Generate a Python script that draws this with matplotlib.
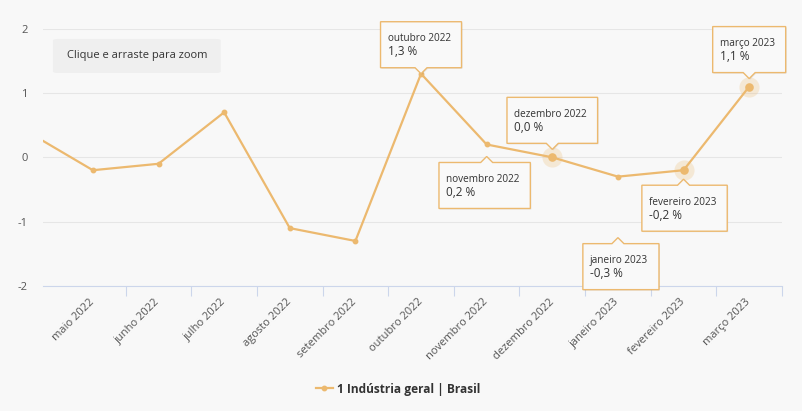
import numpy as np
import matplotlib.pyplot as plt
from matplotlib.transforms import Affine2D, ScaledTranslation
from matplotlib.patches import Polygon, FancyBboxPatch

plt.rcParams['font.family'] = ['Open Sans', 'DejaVu Sans']

#%% Dados
meses = ['abril 2022', 'maio 2022', 'junho 2022', 'julho 2022', 'agosto 2022',
         'setembro 2022', 'outubro 2022', 'novembro 2022', 'dezembro 2022',
         'janeiro 2023', 'fevereiro 2023', 'março 2023']
valores = [0.4, -0.2, -0.1, 0.7, -1.1, -1.3, 1.3, 0.2, 0.0, -0.3, -0.2, 1.1]
serie = '1 Indústria geral | Brasil'

# tooltips fixos
dicas = ['outubro 2022', 'novembro 2022', 'dezembro 2022',
         'janeiro 2023', 'fevereiro 2023', 'março 2023']
destaque = ['dezembro 2022', 'fevereiro 2023', 'março 2023']

# layout dos tooltips (px): lado, distancia ao ponto, deslocamento horizontal
lado = ['cima', 'baixo', 'cima', 'baixo', 'baixo', 'cima']
distancia = [6, 18, 14, 67, 15, 14]
desloc = [0, -2, 0, 3, 1, 0]

cor = '#ecb96f'
fundo = '#f8f8f8'
cor_texto = '#333333'

#%% Figura
fig = plt.figure(figsize=(8.03, 4.11), dpi=100, facecolor=fundo)
ax = fig.add_axes([43/803, 1 - 286/411, 739/803, 257.3/411])
ax.set_facecolor(fundo)

x = np.arange(len(meses))
ax.plot(x, valores, color=cor, lw=1.6, marker='o', ms=3.2, label=serie,
        zorder=3, clip_on=True)

for m in destaque:
    i = meses.index(m)
    ax.plot(i, valores[i], 'o', ms=14.5, color=cor, alpha=0.25, mec='none', zorder=3)
    ax.plot(i, valores[i], 'o', ms=6.2, color=cor, mec='none', zorder=4)

ax.set_yticks([-2, -1, 0, 1, 2])
ax.set_yticklabels(['-2', '-1', '0', '1', '2'])
ax.grid(axis='y', color='#e6e6e6', lw=0.8)
ax.set_axisbelow(True)
for s in ['top', 'right', 'left']:
    ax.spines[s].set_visible(False)
ax.spines['bottom'].set_color('#ccd6eb')
ax.spines['bottom'].set_linewidth(0.8)

ax.set_xticks(x)
ax.set_xticklabels(meses, rotation=45, ha='right', va='center',
                   rotation_mode='anchor')
ax.set_xticks(x[1:] + 0.5, minor=True)
ax.tick_params(axis='x', which='major', length=0, pad=10.5, labelsize=8,
               labelcolor='#555555')
ax.tick_params(axis='x', which='minor', length=7, width=0.8, color='#ccd6eb')
ax.tick_params(axis='y', length=0, pad=11, labelsize=8, labelcolor='#555555')
ax.set_xlim(0.24, 11.5)
ax.set_ylim(-2, 2)

# botao de zoom
ax.add_patch(FancyBboxPatch((0.0135, 0.828), 0.227, 0.132,
                            boxstyle='round,pad=0,rounding_size=0.006',
                            transform=ax.transAxes, fc='#efefef', ec='none',
                            zorder=5))
ax.text(0.127, 0.894, 'Clique e arraste para zoom', transform=ax.transAxes,
        ha='center', va='center', fontsize=8, color=cor_texto, zorder=6)

#%% Tooltips
renderer = fig.canvas.get_renderer()
alt = 46
for k, m in enumerate(dicas):
    i = meses.index(m)
    v = valores[i]
    tr = Affine2D() + ScaledTranslation(i, v, ax.transData)
    val = f'{v:.1f}'.replace('.', ',') + ' %'
    t1 = ax.text(0, 0, m, transform=tr, fontsize=7.2, color=cor_texto,
                 va='center', ha='left', zorder=8)
    t2 = ax.text(0, 0, val, transform=tr, fontsize=8.5, color=cor_texto,
                 va='center', ha='left', zorder=8)
    larg = max(t1.get_window_extent(renderer).width,
               t2.get_window_extent(renderer).width) + 18
    g = distancia[k]
    x0 = desloc[k] - larg/2
    if lado[k] == 'cima':
        yb, yt = g, g + alt
        pts = [(x0, yt), (x0 + larg, yt), (x0 + larg, yb), (6, yb),
               (0, yb - 6), (-6, yb), (x0, yb)]
    else:
        yt, yb = -g, -g - alt
        pts = [(x0, yt), (-6, yt), (0, yt + 6), (6, yt), (x0 + larg, yt),
               (x0 + larg, yb), (x0, yb)]
    sombra = [(px + 1, py - 1) for px, py in pts]
    ax.add_patch(Polygon(sombra, closed=True, transform=tr, fc='#000000',
                         alpha=0.08, ec='none', zorder=6, clip_on=False))
    ax.add_patch(Polygon(pts, closed=True, transform=tr, fc='#f9f9f9',
                         ec=cor, lw=1, zorder=7, clip_on=False))
    t1.set_position((x0 + 7, yt - 17))
    t2.set_position((x0 + 7, yt - 30))
    t1.set_clip_on(False)
    t2.set_clip_on(False)

#%% Legenda
leg = fig.legend(loc='center', bbox_to_anchor=(0.496, 22/411), frameon=False,
                 handlelength=1.4, handletextpad=0.4,
                 prop={'weight': 'bold', 'size': 8.6})
for txt in leg.get_texts():
    txt.set_color(cor_texto)

fig.savefig('out.png', dpi=100, facecolor=fundo)
